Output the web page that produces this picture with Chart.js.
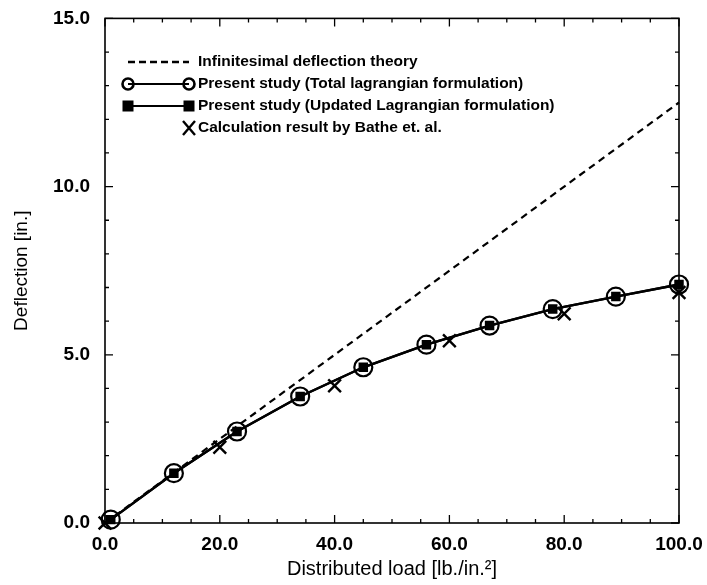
<!DOCTYPE html>
<html>
<head>
<meta charset="utf-8">
<script src="https://cdn.jsdelivr.net/npm/chart.js@4"></script>
<style>
  html, body { margin: 0; padding: 0; background: #fff; }
  #wrap { width: 707px; height: 585px; }
</style>
</head>
<body>
<div id="wrap"><canvas id="deflectionChart" width="707" height="585"></canvas></div>
<script>
// 荷重 [lb./in.^2]
const loads = [1, 12, 23, 34, 45, 56, 67, 78, 89, 100];
// 本研究 (Total / Updated Lagrangian)
const totalLagrangian = [0.1, 1.48, 2.72, 3.76, 4.63, 5.3, 5.87, 6.36, 6.73, 7.09];
const updatedLagrangian = [0.1, 1.48, 2.72, 3.76, 4.63, 5.3, 5.87, 6.36, 6.73, 7.09];
// Bathe らの計算結果
const batheLoads = [0, 20, 40, 60, 80, 100];
const batheDeflection = [0.0, 2.25, 4.08, 5.42, 6.22, 6.85];
// 微小たわみ理論
const linearLoads = [0, 100];
const linearDeflection = [0, 12.5];

const legendLabels = [
  'Infinitesimal deflection theory',
  'Present study (Total lagrangian formulation)',
  'Present study (Updated Lagrangian formulation)',
  'Calculation result by Bathe et. al.'
];

const FONT = '"Liberation Sans", Arial, sans-serif';
const toXY = (xs, ys) => xs.map((x, i) => ({ x: x, y: ys[i] }));

// 枠と内向きの目盛りを描く
const framePlugin = {
  id: 'frame',
  afterDraw(chart) {
    const { ctx, chartArea: a, scales } = chart;
    const xs = scales.x, ys = scales.y;
    ctx.save();
    ctx.strokeStyle = '#000';
    ctx.lineWidth = 1.6;
    ctx.strokeRect(a.left, a.top, a.right - a.left, a.bottom - a.top);
    ctx.lineWidth = 1.3;
    for (let v = 0; v <= 100; v += 5) {
      const px = xs.getPixelForValue(v);
      const len = v % 20 === 0 ? 8 : 4;
      ctx.beginPath();
      ctx.moveTo(px, a.bottom); ctx.lineTo(px, a.bottom - len);
      ctx.moveTo(px, a.top); ctx.lineTo(px, a.top + len);
      ctx.stroke();
    }
    for (let v = 0; v <= 15; v += 1) {
      const py = ys.getPixelForValue(v);
      const len = v % 5 === 0 ? 8 : 4;
      ctx.beginPath();
      ctx.moveTo(a.left, py); ctx.lineTo(a.left + len, py);
      ctx.moveTo(a.right, py); ctx.lineTo(a.right - len, py);
      ctx.stroke();
    }
    ctx.restore();
  }
};

// 凡例 (グラフ内の左上)
const legendPlugin = {
  id: 'innerLegend',
  afterDraw(chart) {
    const ctx = chart.ctx;
    const x0 = 128, x1 = 189, tx = 198;
    const rows = [62, 84, 106, 128];
    ctx.save();
    ctx.strokeStyle = '#000';
    ctx.fillStyle = '#000';
    ctx.font = 'bold 15.5px ' + FONT;
    ctx.textBaseline = 'middle';
    ctx.textAlign = 'left';

    ctx.lineWidth = 2.5;
    ctx.setLineDash([7, 4]);
    ctx.beginPath(); ctx.moveTo(x0, rows[0]); ctx.lineTo(x1, rows[0]); ctx.stroke();
    ctx.setLineDash([]);

    ctx.lineWidth = 2;
    ctx.beginPath(); ctx.moveTo(x0, rows[1]); ctx.lineTo(x1, rows[1]); ctx.stroke();
    ctx.lineWidth = 2.6;
    [x0, x1].forEach(x => { ctx.beginPath(); ctx.arc(x, rows[1], 5.5, 0, Math.PI * 2); ctx.stroke(); });

    ctx.lineWidth = 2;
    ctx.beginPath(); ctx.moveTo(x0, rows[2]); ctx.lineTo(x1, rows[2]); ctx.stroke();
    [x0, x1].forEach(x => ctx.fillRect(x - 5.5, rows[2] - 5.5, 11, 11));

    ctx.lineWidth = 2.4;
    ctx.beginPath();
    ctx.moveTo(x1 - 6, rows[3] - 7); ctx.lineTo(x1 + 6, rows[3] + 7);
    ctx.moveTo(x1 + 6, rows[3] - 7); ctx.lineTo(x1 - 6, rows[3] + 7);
    ctx.stroke();

    legendLabels.forEach((t, i) => ctx.fillText(t, tx, rows[i]));
    ctx.restore();
  }
};

const ctx = document.getElementById('deflectionChart').getContext('2d');
const chart = new Chart(ctx, {
  type: 'scatter',
  data: {
    datasets: [
      {
        label: legendLabels[0],
        data: toXY(linearLoads, linearDeflection),
        showLine: true,
        borderColor: '#000',
        borderWidth: 2.2,
        borderDash: [7, 5],
        pointRadius: 0,
        clip: false
      },
      {
        label: legendLabels[2],
        data: toXY(loads, updatedLagrangian),
        showLine: true,
        borderColor: '#000',
        borderWidth: 2.4,
        pointStyle: 'rect',
        pointRadius: 5,
        backgroundColor: '#000',
        pointBorderColor: '#000',
        clip: false
      },
      {
        label: legendLabels[1],
        data: toXY(loads, totalLagrangian),
        showLine: true,
        borderColor: '#000',
        borderWidth: 2.4,
        pointStyle: 'circle',
        pointRadius: 9,
        pointBorderWidth: 2.2,
        backgroundColor: 'rgba(0,0,0,0)',
        pointBorderColor: '#000',
        clip: false
      },
      {
        label: legendLabels[3],
        data: toXY(batheLoads, batheDeflection),
        showLine: false,
        pointStyle: 'crossRot',
        pointRadius: 9,
        pointBorderWidth: 2.4,
        borderColor: '#000',
        clip: false
      }
    ]
  },
  options: {
    responsive: false,
    animation: false,
    layout: { padding: { top: 17, right: 28, left: 0, bottom: 0 } },
    plugins: {
      legend: { display: false },
      tooltip: { enabled: false }
    },
    scales: {
      x: {
        type: 'linear',
        min: 0, max: 100,
        grid: { display: false },
        border: { display: false },
        afterFit: s => { s.height = 62; },
        ticks: {
          stepSize: 20,
          padding: 2,
          color: '#000',
          font: { family: FONT, size: 19, weight: 'bold' },
          callback: v => v.toFixed(1)
        },
        title: {
          display: true,
          text: 'Distributed load [lb./in.²]',
          color: '#000',
          padding: { top: 0, bottom: 4 },
          font: { family: FONT, size: 20 }
        }
      },
      y: {
        type: 'linear',
        min: 0, max: 15,
        grid: { display: false },
        border: { display: false },
        afterFit: s => { s.width = 105; },
        ticks: {
          stepSize: 5,
          padding: 7,
          color: '#000',
          font: { family: FONT, size: 19, weight: 'bold' },
          callback: v => v.toFixed(1)
        },
        title: {
          display: true,
          text: 'Deflection [in.]',
          color: '#000',
          padding: { top: 10, bottom: 0 },
          font: { family: FONT, size: 19 }
        }
      }
    }
  },
  plugins: [framePlugin, legendPlugin]
});
</script>
</body>
</html>
